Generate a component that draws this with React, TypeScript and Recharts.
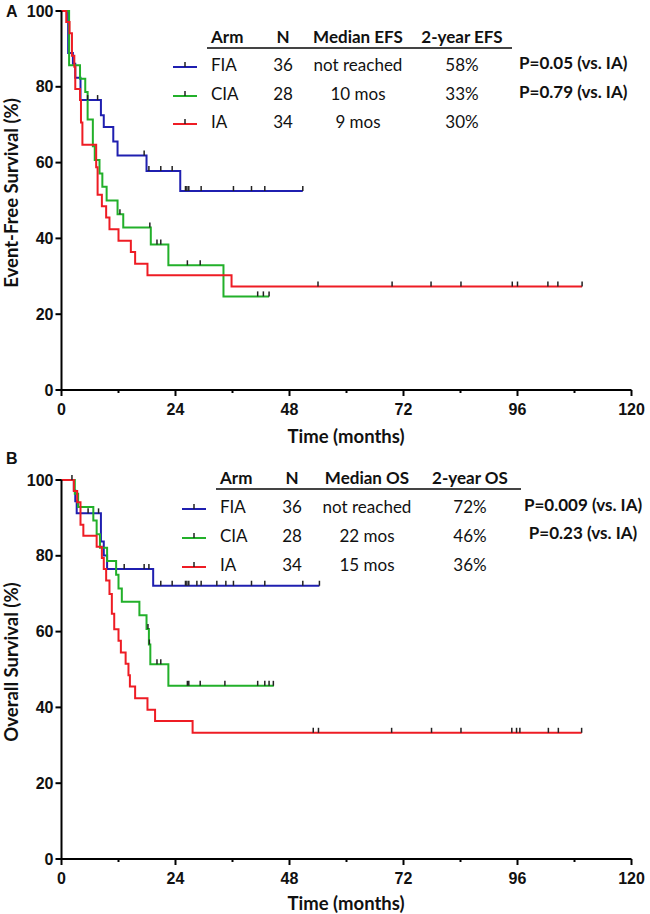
import React from 'react';
import { ComposedChart, Line, Scatter, XAxis, YAxis } from 'recharts';

// Kaplan-Meier steps: [month, survival %]
const efsFIA = [[0, 100], [1.4, 88.9], [2.4, 86.1], [2.9, 82.4], [4.0, 76.5], [8.3, 72.5], [8.9, 69.4], [10.9, 65.6], [11.8, 61.9], [17.9, 57.8], [25.0, 52.5], [50.8, 52.5]];
const efsCIA = [[0, 100], [1.6, 85.7], [3.9, 82.1], [5.0, 78.6], [5.5, 71.4], [6.6, 64.3], [7.0, 60.7], [8.0, 57.1], [8.6, 53.6], [9.5, 50.0], [11.8, 46.4], [13.0, 42.9], [18.8, 38.4], [22.5, 32.9], [34.1, 24.7], [43.7, 24.7]];
const efsIA = [[0, 100], [1.0, 97.1], [1.7, 94.1], [2.2, 88.2], [2.7, 85.3], [2.9, 79.4], [3.9, 76.5], [4.1, 70.6], [4.4, 64.7], [7.3, 58.8], [7.6, 51.5], [8.5, 48.5], [9.4, 45.5], [10.1, 42.4], [12.0, 39.4], [14.6, 36.4], [15.5, 33.3], [18.1, 30.3], [35.8, 27.3], [109.6, 27.3]];

const osFIA = [[0, 100], [2.6, 97.2], [2.9, 94.4], [3.2, 91.2], [8.3, 83.8], [8.9, 80.1], [9.6, 76.5], [19.3, 72.1], [54.3, 72.1]];
const osCIA = [[0, 100], [2.8, 96.4], [3.5, 92.9], [6.7, 89.3], [7.4, 85.7], [8.1, 82.1], [9.6, 78.6], [11.5, 75.0], [12.0, 71.4], [12.7, 67.9], [16.4, 64.3], [17.9, 60.7], [18.4, 56.6], [18.7, 51.4], [22.5, 45.7], [44.7, 45.7]];
const osIA = [[0, 100], [2.6, 97.1], [3.3, 94.1], [4.0, 88.2], [4.6, 85.3], [7.4, 82.4], [8.5, 79.4], [8.9, 76.5], [9.4, 73.5], [10.1, 69.9], [10.6, 64.7], [11.1, 60.6], [12.0, 57.6], [12.5, 54.5], [13.5, 51.5], [14.1, 48.5], [14.4, 45.5], [15.5, 42.4], [18.1, 39.4], [19.7, 36.4], [27.6, 33.3], [109.5, 33.3]];

// censored observations (months)
const efsFIACensor = [5.5, 7.6, 17.4, 18.4, 20.9, 23.3, 26.1, 26.4, 26.8, 29.4, 36.2, 40.0, 42.8, 50.8];
const efsCIACensor = [12.3, 18.6, 20.1, 20.9, 26.5, 29.2, 41.3, 42.5, 43.7];
const efsIACensor = [54.0, 69.6, 77.8, 84.1, 94.9, 96.0, 102.4, 104.5, 109.6];
const osFIACensor = [2.2, 5.6, 7.8, 13.2, 17.4, 18.4, 20.9, 23.3, 26.1, 26.4, 26.8, 28.5, 29.4, 32.7, 34.6, 36.2, 40.0, 42.8, 50.8, 54.3];
const osCIACensor = [18.2, 18.5, 20.1, 20.9, 26.5, 26.8, 29.2, 34.4, 41.3, 42.8, 43.7, 44.6];
const osIACensor = [53.0, 54.1, 69.5, 77.9, 84.1, 94.8, 95.8, 96.5, 102.5, 104.6, 109.5];

const arms = ['FIA', 'CIA', 'IA'];
const armN = ['36', '28', '34'];
const armColors = ['#1f1fb0', '#22b02a', '#ee1c24'];
const efsMedian = ['not reached', '10 mos', '9 mos'];
const efs2y = ['58%', '33%', '30%'];
const osMedian = ['not reached', '22 mos', '15 mos'];
const os2y = ['72%', '46%', '36%'];
const efsP = ['P=0.05 (vs. IA)', 'P=0.79 (vs. IA)'];
const osP = ['P=0.009 (vs. IA)', 'P=0.23 (vs. IA)'];

const xTicks = [0, 12, 24, 36, 48, 60, 72, 84, 96, 108, 120];
const yTicks = [0, 20, 40, 60, 80, 100];

const toPts = (steps: number[][]) => steps.map(([t, s]) => ({ t, s }));
const survAt = (steps: number[][], t: number) => {
  let s = steps[0][1];
  for (const [tt, ss] of steps) if (tt <= t) s = ss;
  return s;
};
const censorPts = (steps: number[][], times: number[]) => times.map((t) => ({ t, s: survAt(steps, t) }));

const LABEL_FONT = 'Lato, "Open Sans", sans-serif';
const TICK_FONT = '"Liberation Sans", Arial, sans-serif';

const CensorMark = (props: any) => (
  <line x1={props.cx} x2={props.cx} y1={props.cy} y2={props.cy - 5} stroke="#222" strokeWidth={1.5} />
);

const XTick = (props: any) => {
  const { x, y, payload } = props;
  const major = payload.value % 24 === 0;
  const axisY = y - 14;
  return (
    <g>
      <line x1={x} x2={x} y1={axisY} y2={axisY + (major ? 6 : 3)} stroke="#000" strokeWidth={2} />
      {major && (
        <text x={x} y={y} dy="0.71em" textAnchor="middle" fontFamily={TICK_FONT} fontWeight="bold" fontSize={16} fill="#111">
          {payload.value}
        </text>
      )}
    </g>
  );
};

function KMChart({ series, censors, height, top, xHeight }: any) {
  return (
    <ComposedChart width={650} height={height} margin={{ top, right: 18.5, bottom: 0, left: 0 }}>
      <XAxis
        type="number"
        dataKey="t"
        domain={[0, 120]}
        ticks={xTicks}
        allowDuplicatedCategory={false}
        height={xHeight}
        tickSize={6}
        tickMargin={8}
        tickLine={false}
        axisLine={{ stroke: '#000', strokeWidth: 2 }}
        tick={<XTick />}
        interval={0}
      />
      <YAxis
        type="number"
        domain={[0, 100]}
        ticks={yTicks}
        width={61.5}
        tickSize={6}
        tickMargin={2}
        interval={0}
        axisLine={{ stroke: '#000', strokeWidth: 2 }}
        tickLine={{ stroke: '#000', strokeWidth: 2 }}
        tick={{ fontFamily: TICK_FONT, fontWeight: 'bold', fontSize: 16, fill: '#111' }}
      />
      {series.map((steps: number[][], i: number) => (
        <Line
          key={'l' + i}
          data={toPts(steps)}
          dataKey="s"
          type="stepAfter"
          stroke={armColors[i]}
          strokeWidth={2}
          dot={false}
          activeDot={false}
          isAnimationActive={false}
        />
      ))}
      {series.map((steps: number[][], i: number) => (
        <Scatter
          key={'c' + i}
          data={censorPts(steps, censors[i])}
          dataKey="s"
          shape={<CensorMark />}
          isAnimationActive={false}
        />
      ))}
    </ComposedChart>
  );
}

const txt = (style: React.CSSProperties, children: React.ReactNode, key?: string) => (
  <div
    key={key}
    style={{
      position: 'absolute',
      lineHeight: '20px',
      whiteSpace: 'nowrap',
      fontFamily: LABEL_FONT,
      fontSize: 17,
      color: '#111',
      ...style,
    }}
  >
    {children}
  </div>
);

function LegendTable({ lay, title, medians, twoYear, pvals }: any) {
  const center = (x: number, y: number) => ({ left: x, top: y - 10, transform: 'translateX(-50%)' });
  return (
    <>
      {txt({ left: lay.arm, top: lay.head - 10, fontWeight: 'bold' }, 'Arm')}
      {txt({ ...center(lay.n, lay.head), fontWeight: 'bold' }, 'N')}
      {txt({ ...center(lay.med, lay.head), fontWeight: 'bold' }, 'Median ' + title)}
      {txt({ ...center(lay.two, lay.head), fontWeight: 'bold' }, '2-year ' + title)}
      <div style={{ position: 'absolute', left: lay.rule[0], width: lay.rule[1] - lay.rule[0], top: lay.head + 10, height: 1.5, background: '#444' }} />
      {arms.map((a, i) => {
        const y = lay.rows[i];
        return (
          <React.Fragment key={a}>
            <svg style={{ position: 'absolute', left: lay.swatch, top: y - 6 }} width={26} height={12}>
              <line x1={1} x2={25} y1={8} y2={8} stroke={armColors[i]} strokeWidth={2} />
              <line x1={13} x2={13} y1={8} y2={3} stroke="#222" strokeWidth={1.5} />
            </svg>
            {txt({ left: lay.arm, top: y - 10 }, a)}
            {txt(center(lay.n, y), armN[i])}
            {txt(center(lay.med, y), medians[i])}
            {txt(center(lay.two, y), twoYear[i])}
          </React.Fragment>
        );
      })}
      {pvals.map((p: string, i: number) =>
        txt(
          lay.pAlign === 'left'
            ? { left: lay.pX, top: lay.pRows[i] - 10, fontWeight: 'bold' }
            : { ...center(lay.pX, lay.pRows[i]), fontWeight: 'bold' },
          p,
          'p' + i
        )
      )}
    </>
  );
}

const layA = { head: 37, rule: [207, 512], rows: [65, 93.5, 122], arm: 211, n: 283, med: 358, two: 462, swatch: 172, pX: 519, pAlign: 'left', pRows: [63, 92] };
const layB = { head: 478, rule: [216, 521], rows: [507, 536, 565], arm: 220, n: 292, med: 367, two: 470, swatch: 181, pX: 583, pAlign: 'center', pRows: [505, 533] };

export default function App() {
  // vertical axis titles: laid out vertically so the box stays inside the page
  const yLabel = (text: string, cy: number) =>
    txt(
      {
        left: 0,
        top: cy,
        lineHeight: '22px',
        writingMode: 'vertical-rl',
        transform: 'translateY(-50%) rotate(180deg)',
        fontWeight: 'bold',
        fontSize: 18.5,
      },
      text
    );
  return (
    <div style={{ position: 'absolute', left: 0, top: 0, width: 650, height: 914, background: '#fff' }}>
      <div style={{ position: 'absolute', left: 0, top: 0 }}>
        <KMChart series={[efsFIA, efsCIA, efsIA]} censors={[efsFIACensor, efsCIACensor, efsIACensor]} height={440} top={11} xHeight={50} />
      </div>
      <div style={{ position: 'absolute', left: 0, top: 440 }}>
        <KMChart series={[osFIA, osCIA, osIA]} censors={[osFIACensor, osCIACensor, osIACensor]} height={474} top={40} xHeight={55} />
      </div>
      {txt({ left: 6, top: 2, fontFamily: TICK_FONT, fontWeight: 'bold', fontSize: 16 }, 'A')}
      {txt({ left: 6, top: 449, fontFamily: TICK_FONT, fontWeight: 'bold', fontSize: 16 }, 'B')}
      {yLabel('Event-Free Survival (%)', 193)}
      {yLabel('Overall Survival (%)', 662)}
      {txt({ left: 346, top: 426, transform: 'translateX(-50%)', fontWeight: 'bold', fontSize: 18.5 }, 'Time (months)')}
      {txt({ left: 346, top: 893, transform: 'translateX(-50%)', fontWeight: 'bold', fontSize: 18.5 }, 'Time (months)')}
      <LegendTable lay={layA} title="EFS" medians={efsMedian} twoYear={efs2y} pvals={efsP} />
      <LegendTable lay={layB} title="OS" medians={osMedian} twoYear={os2y} pvals={osP} />
    </div>
  );
}
